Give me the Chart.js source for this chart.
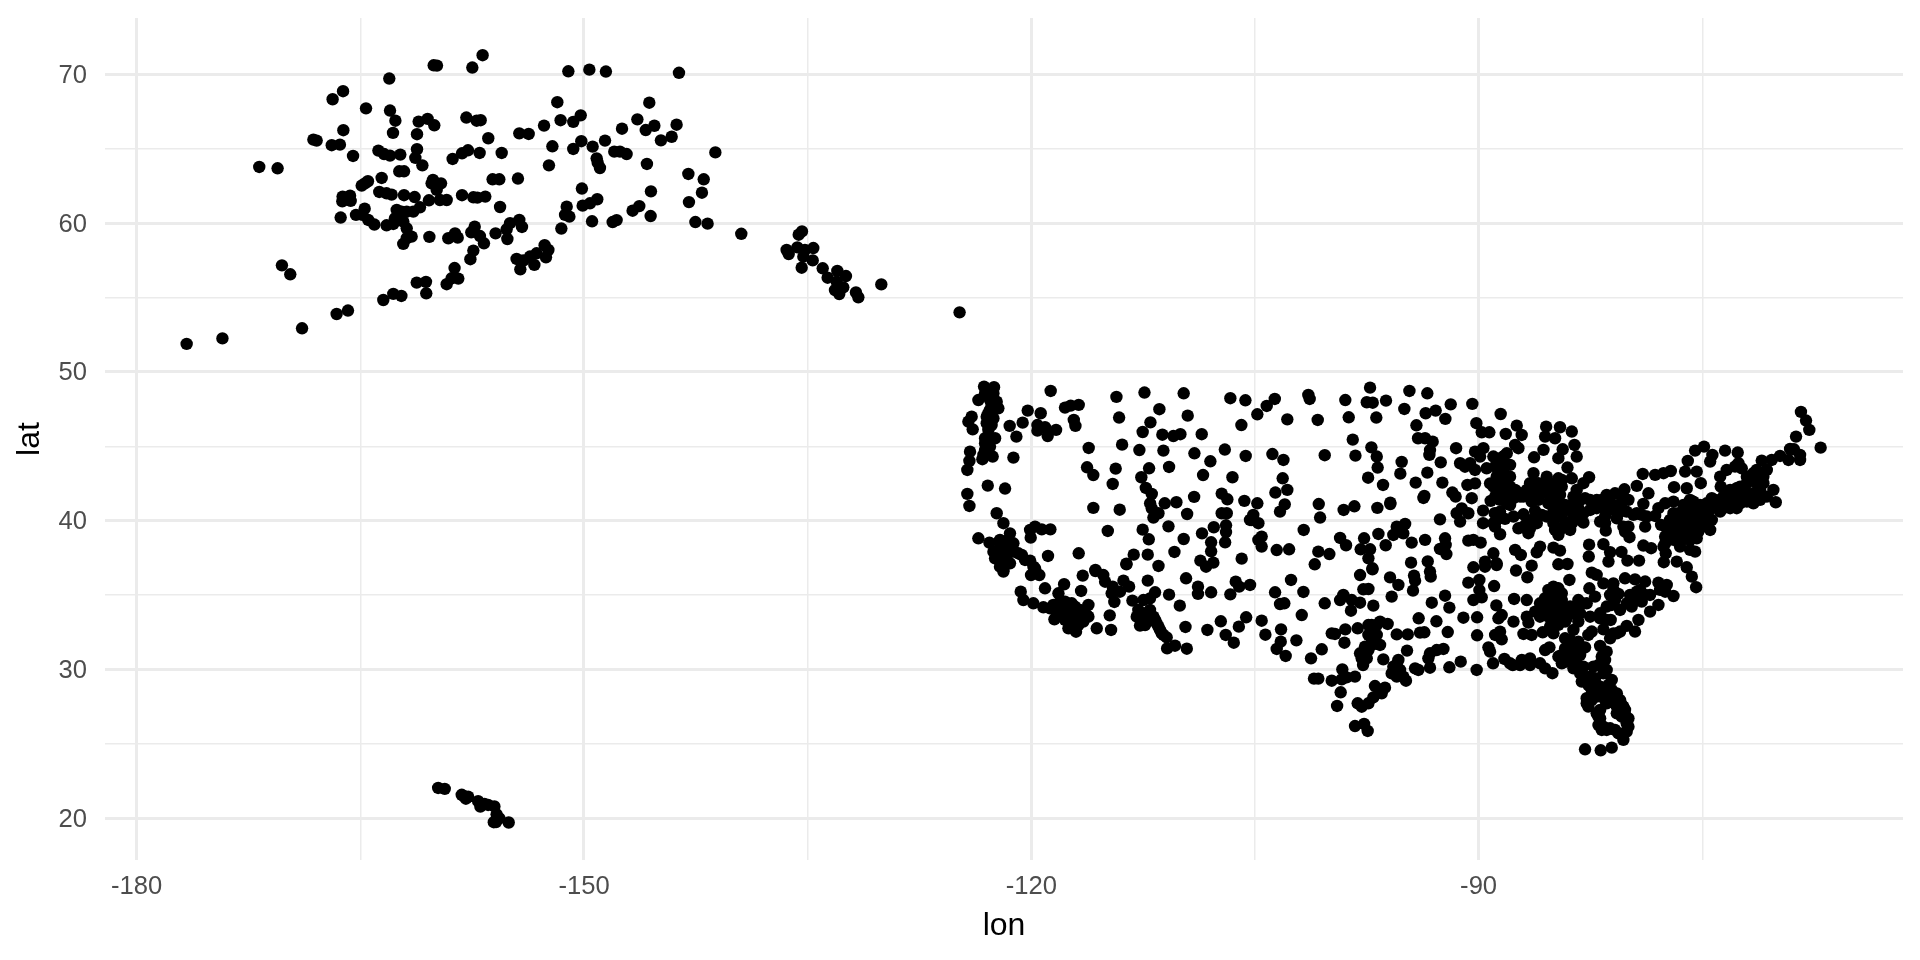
<!DOCTYPE html>
<html>
<head>
<meta charset="utf-8">
<title>lon / lat scatter</title>
<style>html,body{margin:0;padding:0;background:#fff}canvas{display:block}</style>
<script src="https://cdn.jsdelivr.net/npm/chart.js@4/dist/chart.umd.min.js"></script>
</head>
<body>
<canvas id="c" width="1920" height="960"></canvas>
<script>
const xTitle = "lon", yTitle = "lat";
const xTickValues = [-180,-165,-150,-135,-120,-105,-90,-75];
const xLabelValues = [-180,-150,-120,-90];
const yTickValues = [20,25,30,35,40,45,50,55,60,65,70];
const yLabelValues = [20,30,40,50,60,70];

const alaskaLon = [-176.65,-174.25,-156.8,-160.08,-159.86,-157.49,-163.06,-151.05,-149.64,-148.53,-166.16,-166.86,-164.62,-163.01,-151.79,-162.65,-161.09,-160.49,-160.04,-157.89,-157.2,-156.93,-150.22,-150.72,-151.57,-152.68,-162.81,-161.2,-166.14,-154.34,-153.71,-156.42,-168.15,-167.93,-166.92,-166.37,-152.12,-150.18,-150.72,-149.42,-148.59,-163.79,-163.41,-163.01,-162.32,-161.2,-161.31,-160.84,-165.49,-157.78,-158.18,-158.81,-157,-155.52,-149.15,-149.08,-148.93,-152.35,-171.78,-170.55,-162.39,-162.07,-163.57,-164.49,-164.69,-164.91,-156.13,-155.68,-154.43,-160.13,-160.22,-159.59,-159.88,-150.14,-163.73,-163.24,-162.9,-162.07,-161.36,-158.18,-157.42,-157.15,-156.62,-160.4,-159.66,-159.21,-149.11,-149.6,-150.09,-166.19,-165.69,-166.21,-165.65,-155.63,-151.16,-151.27,-150.98,-164.71,-165.29,-164.87,-164.47,-164.06,-166.32,-162.56,-162.23,-161.89,-161.45,-161,-162.68,-162.79,-163.24,-162.12,-161.89,-154.34,-154.96,-154.16,-155.19,-149.46,-157.33,-157.56,-156.98,-156.71,-155.93,-155.14,-151.52,-161.56,-161.89,-162.12,-160.37,-159.1,-158.65,-158.47,-157.42,-157.62,-152.64,-152.39,-154.52,-154.07,-153.62,-153.18,-152.55,-153.33,-154.27,-158.68,-158.43,-158.88,-159.21,-161.22,-160.6,-160.58,-163.46,-162.79,-162.25,-170.26,-169.7,-165.83,-166.59,-168.91];
const alaskaLat = [51.88,52.25,71.28,70.6,70.58,70.45,69.71,70.2,70.31,70.18,68.86,68.32,67.71,67.56,68.12,66.88,66.82,67,66.57,67.09,66.88,66.91,67.24,66.8,66.91,66.55,66.06,65.97,66.24,66.03,65.99,65.7,65.61,65.54,65.23,65.27,65.16,65.5,64.98,65.14,65.54,64.87,64.64,64.53,64.6,64.96,64.38,63.88,64.51,64.89,64.69,64.31,64.71,64.71,64.35,64.06,63.7,63.88,63.77,63.68,63.48,63.48,63.03,62.81,62.67,62.52,62.94,62.94,62.99,62.9,62.67,62.67,62.23,62.32,62.09,62,61.91,61.87,61.75,61.87,61.73,61.71,61.78,61.53,61.55,61.55,61.6,61.33,61.17,61.78,61.84,61.46,61.49,61.08,61.1,60.55,60.43,60.97,60.55,60.55,60.21,59.9,60.37,60.88,60.77,60.77,60.77,61.06,60.32,59.94,59.85,60.1,59.65,60.21,59.99,59.74,59.58,60.12,59.76,59.38,59.13,58.64,59.31,58.93,59.63,59.09,58.98,58.6,59.07,58.98,59.31,59.02,58.15,57.57,58.51,58.19,57.59,57.48,57.75,57.97,57.7,57.19,56.89,56.98,56.27,56.29,55.89,56,56.05,55.28,54.83,55.24,55.1,57.16,56.56,54.12,53.89,52.93];

const interiorLon = [-143.63,-145.62,-146.42,-145.28,-145.86,-147.45,-143.79,-144.12,-144.84,-147.97,-147.59,-147.14,-141.19,-145.78,-143,-141.97,-142.09,-145.51,-142.96,-146.29,-146.74,-145.53,-147.81,-148.08,-142.53,-141.71,-139.45];
const interiorLat = [70.1,68.09,66.97,66.54,66.25,66.34,66.61,65.8,65.56,64.8,64.8,64.64,64.75,63.97,63.3,62.94,62.04,62.13,61.41,61.14,60.83,60.47,60.2,60.07,60.07,59.96,59.28];

const panhandleLon = [-135.38,-135.6,-136.41,-136.27,-135.69,-135.18,-134.62,-135.29,-134.66,-135.4,-133.99,-133.66,-133.01,-132.43,-133.05,-132.61,-133.17,-132.88,-131.76,-131.6,-130.06,-124.81];
const panhandleLat = [59.44,59.22,58.19,57.92,58.37,58.19,58.32,57.74,57.49,57,56.96,56.33,56.78,56.44,56.06,55.68,55.5,55.23,55.34,55.01,55.88,54];

const hawaiiLon = [-159.78,-159.34,-158.2,-158.04,-157.92,-157.77,-157.1,-156.95,-156.67,-156.43,-156.01,-155.67,-156.05,-155.05,-155.86,-155.9];
const hawaiiLat = [22.04,21.98,21.58,21.48,21.32,21.45,21.15,20.79,20.96,20.9,20.8,20,19.74,19.72,20.27,19.75];

const northwestLon = [-123.17,-122.5,-123.1,-122.54,-123.55,-122.77,-122.32,-122.21,-122.77,-122.99,-124,-124.22,-122.66,-123.93,-122.88,-122.43,-123.1,-124.11,-123.1,-122.59,-123.28,-124.15,-124.29,-122.92,-121.76,-124.29,-124.15,-122.32,-121.87,-121.2,-118.7,-120.24,-119.37,-120.58,-121.45,-121,-119.59,-119.59,-119.08,-118.9,-118.34,-117.74,-117.36,-116.82,-117.15,-117.04,-116.15,-116.26,-115.84,-114.34,-114.54,-115.84,-114.07,-113.91,-114.29,-114.11,-112.41,-111.41,-112.01,-112.53,-112.75,-111.21,-110.47,-110,-111.14,-112.1,-110.76,-112.62,-112.32,-111.92,-112.03,-111.92,-111.47,-111.81,-111.05,-110.27,-109.08,-109.55,-109.78,-109.51,-108.57,-109.06,-107.99,-108.48,-107.02,-106.51,-107.23,-106.85,-105.71,-107.23,-106.89,-106.65,-105.64,-105.91,-105.62,-105.33];
const northwestLat = [49.01,48.97,48.56,48.56,48.11,48.11,48,47.55,47.44,46.99,46.99,46.66,46.43,46.14,46.1,45.54,45.2,44.64,44.75,44.31,44.13,44.02,43.41,42.36,42.16,41.8,40.99,40.5,39.83,44.24,48.72,47.4,47.22,46.59,46.37,45.65,46.43,46.05,46.28,45.69,46.1,47.6,47.73,47.78,46.77,46.37,44.89,43.59,43.07,43.5,42.47,40.86,40.74,45.11,48.32,46.93,48.61,47.49,46.61,45.96,44.75,45.78,45.69,45.81,44.71,43.52,43.61,42.92,42.2,41.8,41.17,40.83,40.5,40.21,41.17,41.24,41.6,40.45,48.56,47.06,45.81,44.53,43.99,43.07,44.78,42.92,41.82,41.44,41.33,40.5,40.5,48.23,48.09,46.43,44.35,40.05];

const southwestLon = [-123.55,-122.81,-121.87,-121.43,-121.2,-122.32,-121.65,-120.87,-120.08,-119.75,-121.87,-120.08,-119.75,-119.3,-118.72,-120.04,-118.88,-116.82,-114.87,-115.7,-112.53,-112.12,-113.13,-112.19,-113.62,-111.47,-110.4,-109.78,-108.55,-107.76,-106.94,-106.94,-107,-107.94,-107.94,-108.66,-107.79,-108.28,-105.89,-110.8,-122.1,-121.54,-122.54,-122.1,-121.87,-120.02,-119.46,-119.86,-116.55,-115.7,-115.17,-115.05,-113.62,-112.19,-109.62,-108.82,-108.82,-107.94,-106.65,-106.29,-106.06,-105.33,-110.76,-110.04,-109.66,-108.19,-107.29,-105.59,-106.08,-106.96,-106.42,-120.71,-120.53,-119.08,-117.8,-118.18,-116.66,-114.54,-113.82,-113.44,-114.05,-114.61,-114.43,-113.22,-112.48,-112.04,-111.7,-119.86,-119.19,-118.52,-117.74,-117.29,-116.17,-118.45,-117.85,-117.07,-116.84,-116.28,-116.51,-117.13,-117,-115.61,-114.74,-114.65,-112.82,-112.59,-112.71,-112.04,-111.7,-111.47,-111.25,-110.92,-110.89,-110.36,-109.57,-118.07,-117.51,-116.73];
const southwestLat = [38.82,38.53,38.37,39.15,38.48,37.7,37.36,37.81,37.32,36.8,36.69,39.38,39.6,39.42,39.42,38.86,37.63,37.81,39.31,36.69,39.4,38.75,37.72,37.72,37.11,36.96,37.9,38.77,39.15,39.56,39.69,39.24,38.55,38.55,37.94,37.32,37.18,36.91,37.45,39.62,38.26,38.71,37.92,37.25,36.58,36.35,36.35,36.91,36.31,36.62,36.35,35.9,37.07,35.97,36.13,35.57,35.08,35.19,35.05,35.9,35.57,35.68,35.03,34.29,32.86,32.66,33.24,33.51,32.88,32.32,31.8,35.23,34.67,35.46,35.73,35.12,35.28,35.57,35.97,35.57,35.23,35.12,34.54,34.63,34.67,34.78,35.19,34.45,34.18,34.34,34.56,34.45,34.34,33.37,33.89,33.78,33.44,33.66,33.22,32.77,32.54,32.77,33.64,32.66,34,33.44,32.95,33.66,33.33,32.88,32.43,32.16,31.42,31.6,31.4,34.22,34.22,34];

const westClusterLon = [-122.66,-122.88,-122.54,-123.1,-122.77,-123.21,-122.88,-122.99,-122.1,-121.54,-121.76,-121.2,-122.43,-122.1,-121.43,-120.42,-120.64,-118.18,-117.74,-117.4,-117.07,-118.07,-117.62,-117.29,-116.62,-118.3,-117.74,-117.4,-116.84,-116.17,-117.07,-117.51,-118.74,-112.93,-112.37,-112.26,-111.81,-111.59,-112.37,-112.04,-111.37,-111.14];
const westClusterLat = [47.78,47.22,46.88,45.54,44.98,44.42,45.65,46.55,38.71,38.26,37.92,37.92,37.47,36.91,37.14,37.36,37.7,34.45,34.11,34,34.22,33.89,33.66,33.44,33.89,33.78,33.33,33.1,32.99,33.55,32.99,32.77,34.11,33.55,33.77,33.44,33.55,33.1,32.99,34,32.66,32.32];

const northPlainsLon = [-104.84,-104.21,-103.67,-102.83,-101.42,-101.33,-100.79,-98.94,-98.71,-97.28,-97.5,-97.1,-96.21,-96.86,-94.64,-93.44,-94.98,-93.55,-92.88,-92.23,-91.87,-90.42,-88.52,-94.17,-90.15,-89.79,-89.28,-88.18,-94.06,-93.59,-93.08,-93.26,-93.3,-98.44,-97.19,-98.26,-96.83,-96.77,-97.41,-96.41,-95.16,-95.25,-93.44,-94.22,-92.54,-92.43,-91.51,-103.83,-103.09,-100.32,-103.14,-102.83,-103.63,-104.84,-103,-103.32,-100.72,-100.63,-99.05,-98.33,-96.79,-95.92,-95.92,-93.64,-93.7,-91.76,-91.54,-92.59,-91.47,-91.13,-90.69,-91.24,-89.7,-89.7,-88.92,-88.23,-88.9,-88.56,-90.24,-89.68,-91.24,-90.57,-90.24,-89.46,-89.9,-89.01,-88.34,-88.11,-90.75,-90.24,-90.46,-89.19,-88.79,-88.34,-88.11,-88.79,-88.34,-88.11,-89.23,-90.91];
const northPlainsLat = [47.15,47.71,48.18,46.81,48.45,48.18,46.77,48.11,46.95,48.94,47.96,47.93,48.07,46.93,48.72,48.56,47.51,47.22,47.4,46.84,47.82,47.85,47.17,46.41,46.55,45.94,45.94,45.83,45.54,45.54,45.31,44.75,44.42,45.45,44.93,44.37,44.31,43.57,42.89,42.4,43.95,43.16,43.23,42.56,43.92,42.56,44.87,44.48,44.08,44.4,42.85,42.07,41.89,41.17,41.1,40.61,41.12,40.21,40.72,40.97,40.86,41.21,41.12,41.66,41.53,41.89,41.62,40.09,40.5,40.83,40.5,39.94,40.68,39.83,40.5,40.12,39.6,39.09,44.64,44.87,43.86,43.86,43.41,43.52,44.31,44.31,44.31,44.53,42.4,42.51,41.51,41.33,42.96,43.19,42.51,42.29,41.62,41.17,42.51,43.63];

const midPlainsLon = [-105.11,-105.22,-104.77,-104.55,-104.77,-104.55,-103.54,-102.71,-101.73,-100.75,-100.01,-100.99,-99.29,-98.89,-97.68,-96.72,-96.23,-97.91,-97.28,-97.39,-95.49,-94.93,-95.72,-95.05,-94.49,-93.59,-92.25,-92.21,-92.59,-92.16,-94.53,-93.41,-90.69,-90.35,-89.86,-89.01,-89.57,-88.79,-90.35,-97.12];
const midPlainsLat = [40.39,40.05,39.83,38.93,38.71,38.26,38.03,38.08,39.38,37.92,37.76,37.07,38.84,38.35,38.82,39.11,38.35,38.08,38.08,37.47,39.6,39.78,39.04,39.15,38.53,38.71,38.82,38.37,38.1,37.76,37.18,37.27,38.66,38.71,38.53,37.81,37.25,37.14,36.87,36.8];

const southPlainsLon = [-102.58,-103.65,-101.75,-103.32,-103.03,-100.32,-101.86,-104.55,-103.25,-104.3,-103.27,-103.54,-102.94,-102.22,-100.52,-101.24,-101.04,-100.75,-99.85,-99.25,-99.49,-98.29,-97.68,-97.44,-99.07,-99.29,-98.51,-97.95,-98.56,-97.06,-97.73,-97.39,-97.95,-97.12,-95.83,-95.94,-95.38,-94.33,-94.26,-94.4,-93.26,-93.21,-93.14,-92.25,-91.96,-94.02,-92.83,-92.07,-91.02,-90.1,-90.1,-90.69,-89.95,-88.96,-89.95,-90.35,-89.79,-88.81,-88.45,-88.67,-88.56,-88.45,-89.34,-89.23,-89.03,-88.27,-87.89,-91.2,-91.96,-90.13,-99.85,-99.63,-98.94,-99,-98.11,-97.39,-96.61,-96.1,-97.06,-97.17,-96.61,-97.62,-97.95,-97.75,-96.39,-95.49,-94.75,-93.93,-93.64,-94.8,-92.36,-92.81,-93.26,-93.37,-93.26,-95.49,-95.6,-95.49,-95.05,-94.87,-94.26,-94.04,-99.14,-99.18,-98.85,-98.29,-96.95,-96.28,-96.5,-97.06,-97.39,-97.84,-98.11,-89.57,-88.79];
const southPlainsLat = [36.02,35.19,35.21,34.4,34.45,34.45,33.66,33.28,32.7,32.34,31.87,31.38,30.91,31.96,31.36,30.75,29.39,29.39,29.25,28.47,27.55,26.2,26.34,25.87,35.01,34.67,34.67,34.49,33.95,34.29,35.39,35.41,36.35,36.73,34.9,36.19,35.68,36.31,35.97,35.3,36.58,36.24,34.49,34.96,34.16,33.44,33.24,32.52,33.48,33.51,32.3,35.84,36.02,35.61,35.34,34.67,34.85,34.31,33.66,33.44,32.54,32.03,31.49,31.2,30.42,30.71,30.42,30.53,30.15,29.97,32.43,32.39,32.7,31.8,32.77,32.99,33.22,33.06,32.66,32.1,31.65,31.2,31.09,30.3,30.68,32.36,32.36,32.48,32.5,31.27,31.38,31.31,31.09,30.75,30.12,30.37,29.97,29.52,29.52,29.25,30.08,29.97,30.01,29.34,29.47,29.52,28.89,28.78,28.4,28.13,27.73,27.5,27.73,36.91,37.02];

const texasClusterLon = [-97.17,-96.83,-97.17,-96.83,-97.39,-97.17,-97.62,-97.5,-97.84,-97.39,-95.72,-95.27,-95.83,-95.38,-95.27];
const texasClusterLat = [32.99,32.99,32.54,32.32,32.32,31.65,31.54,30.75,30.75,31.31,30.19,29.97,29.74,30.64,29.63];

const greatLakesLon = [-87.44,-87.11,-87.55,-87.33,-85.47,-84.54,-85.54,-84.87,-83.75,-85.65,-83.57,-84.36,-84.65,-83.42,-84.04,-86.28,-88.56,-87.89,-86.32,-85.43,-84.65,-83.75,-82.59,-82.97,-83.42,-84.42,-85.99,-86.55,-87,-87.89,-88.56,-89.01,-87.89,-88.56,-87.22,-85.88,-85.32,-84.76,-84.2,-83.64,-82.86,-82.07,-81.41,-80.85,-80.22,-79.95,-80.62,-81.63,-82.52,-83.31,-84.09,-84.98,-87.66,-86.99,-86.21,-85.43,-86.1,-86.66,-87.33,-89.01,-84.98,-84.65,-83.86,-84.2,-82.97,-81.85,-81.47,-80.73,-79.95,-80.18,-79.88,-88.78,-88.34,-87.55,-88,-88.78,-86.55,-84.98,-85.21,-86.32,-85.65];
const greatLakesLat = [46.39,45.76,45.09,44.87,46.32,46.28,45.65,45.54,45.99,44.76,45.09,44.8,44.2,44.31,43.57,44.26,44.08,43.75,43.19,42.96,42.85,42.85,42.92,42.52,42.07,42.29,42.52,41.84,41.62,42.29,42.52,42.29,41.06,41.4,41.62,41.73,41.17,41.62,41.06,41.62,41.51,41.4,41.73,41.84,42.11,41.4,41.06,40.84,40.72,40.84,40.72,40.84,40.28,40.43,40.66,40.28,39.83,39.16,39.49,39.83,39.83,39.04,39.38,39.94,39.87,39.94,39.33,40.16,39.6,39.27,38.89,43.64,42.74,42.07,41.73,41.84,42.52,41.84,41.62,41.4,42.07];

const lakesClusterLon = [-88.34,-88.89,-88.34,-87.89,-88.67,-88.22,-88.89,-88.45,-87.89,-87.44,-87.66,-88.11,-86.77,-86.21,-85.76,-86.32,-85.99,-86.44,-85.32,-84.87,-84.42,-85.09,-84.54,-84.98,-84.42,-83.75,-83.19,-82.52,-81.74,-81.18,-80.4,-80.4,-81.18,-82.08,-82.97,-83.64,-84.54,-84.98,-84.2,-84.87,-84.42,-83.75,-83.19,-81.52,-81.52,-80.62,-80.07,-79.61,-79.06,-80.29,-88.78,-88.56,-86.77,-86.44,-85.76,-86.55,-86.99];
const lakesClusterLat = [44.31,43.64,43.41,42.96,43.08,42.07,41.62,41.96,41.73,41.96,41.51,41.28,42.07,42.07,42.29,42.52,41.4,41.28,42.29,42.52,42.74,41.84,41.73,41.28,40.95,41.06,41.4,41.4,41.4,41.28,41.62,40.84,40.72,40.84,40.5,40.39,40.28,40.16,39.6,39.38,39.49,39.83,40.05,40.28,39.83,40.5,40.61,40.39,40.39,39.6,40.05,40.61,39.83,40.05,40.39,39.49,39.6];

const northeastLon = [-79.39,-78.72,-78.83,-78.16,-78.99,-79.39,-78.16,-77.6,-77.11,-76.89,-76.04,-78.61,-78.95,-77.94,-77.49,-76.93,-76.15,-75.37,-75.1,-75.97,-75.48,-74.88,-74.32,-74.47,-73.47,-72.62,-72.57,-73.36,-73.8,-73.76,-72.35,-72.8,-71.01,-70.34,-69.78,-69.11,-69.22,-71.57,-70.9,-71.35,-70.23,-70.07,-70.67,-71.57,-72.01,-72.69,-72.69,-73.58,-74.36,-75.59,-75.15,-75.93,-76.6,-76.71,-77.76,-77.16,-77.49,-76.49,-75.48,-75.59,-76.04,-74.92,-74.47,-74.92,-74.36,-73.8,-73.13,-72.24,-76.26,-75.82,-75.37,-75.82,-76.26,-76.93,-77.38,-75.26,-74.7,-75.82,-75.26,-76.49,-76.71,-70.67,-71.35,-72.01,-71.12,-71.12,-73.8,-73.13,-74.25,-74.03,-72.69,-68.38,-68.04,-67.82,-68.71,-67.06,-68.85,-68.44,-68.44];
const northeastLat = [40.5,40.28,39.6,40.32,43.14,42.34,43.08,43.19,43.34,42.25,42.18,41.84,41.13,40.84,41.17,41.28,43.3,43.3,42.52,44.02,44.71,44.98,44.42,43.97,44.71,44.58,43.86,43.41,42.96,42.29,43.52,43.64,44.04,44.08,44.35,44.82,44.08,43.19,42.96,42.52,42.07,41.24,41.62,41.17,41.84,42.18,40.84,40.84,41.51,41.28,41.06,40.84,40.5,39.83,39.72,39.16,38.48,38.26,37.92,38.93,39.6,39.83,39.38,40.5,40.05,40.61,41.4,41.62,40.5,40.5,40.05,38.71,39.38,39.6,38.93,39.27,40.05,41.4,40.72,38.93,40.28,43.41,42.96,42.52,42.07,41.4,41.4,40.84,41.17,40.84,41.62,47.31,46.73,46.1,45.65,44.91,44.8,44.42,44.08];

const corridorLon = [-77.16,-76.37,-75.82,-75.59,-75.37,-74.92,-74.59,-74.7,-75.82,-76.26,-76.93,-77.38,-76.93,-76.49,-75.59,-75.15,-74.7,-76.04,-75.37,-76.37,-76.93,-77.49,-77.6,-75.82,-73.58,-73.02,-72.46,-72.01,-71.12,-71.57,-71.35,-71.57,-70.9,-72.01,-72.46,-73.13,-73.58,-74.14];
const corridorLat = [40.05,40.05,40.05,40.5,40.84,40.95,40.61,41.17,41.06,41.06,40.5,39.49,39.16,39.6,39.49,39.6,39.6,39.16,38.82,38.71,38.71,38.93,38.26,38.04,41.4,41.84,41.17,41.28,41.73,41.84,43.41,42.74,42.52,42.96,42.29,42.07,41.62,41.4];

const appalachiaLon = [-82.59,-82.61,-81.63,-81.18,-81.29,-80.42,-80.02,-79.24,-78.95,-78.43,-77.45,-77.58,-76.71,-76.04,-75.7,-82.41,-82.08,-87.55,-87.17,-85.88,-86.1,-84.98,-84.54,-84.65,-84.04,-86.44,-87.49,-86.73,-83.91,-81.63,-80.96,-80.18,-79.51,-78.83,-77.94,-77.38,-76.93,-75.41];
const appalachiaLat = [38.39,37.59,38.42,37.88,37.25,37.9,37.32,37.32,38.33,38.15,37.81,37.21,37.25,36.87,36.24,36.51,36.36,38.04,37.7,38.26,37.88,38.19,37.99,37.07,37.09,36.98,36.65,36.2,36.02,35.79,35.79,36.13,36.06,35.91,35.84,35.68,34.94,35.53];

const southeastLon = [-84.98,-85.21,-84.42,-85.88,-84.87,-85.43,-86.21,-84.76,-83.86,-83.31,-82.75,-82.19,-82.57,-83.64,-84.09,-84.98,-85.88,-85.21,-83.31,-83.64,-84.98,-87.62,-86.77,-87.66,-86.77,-86.66,-88.89,-86.99,-86.44,-85.7,-85.25,-85.54,-87.71,-87.1,-86.55,-85.88,-85.54,-85.05,-86.55,-87.22,-81.18,-80.62,-81.07,-80.51,-79.73,-79.84,-79.17,-78.83,-79.06,-77.94,-78.5,-79.28,-82.52,-81.85,-81.14,-80.06,-79.51,-81.63,-82.41,-80.73,-81.18,-82.64,-81.85,-77.83];
const southeastLat = [35.57,35.12,35.12,34.45,34.56,34,33.89,33.78,34.23,34.67,34.45,34.9,35.46,33.78,33.44,33.33,33.55,32.88,33.22,32.66,32.43,34.74,34.67,33.22,33.55,33.15,32.32,32.39,32.32,32.5,31.49,31.31,30.3,30.64,30.75,30.42,30.08,29.75,30.3,30.3,35.01,35.08,34.34,34,34.23,35.01,35.35,35.01,34.56,34.34,33.89,33.33,33.55,33.44,33.33,32.93,32.55,32.7,32.55,32.43,32.1,32.32,33.78,35.35];

const georgiaClusterLon = [-85.32,-84.65,-85.54,-84.98,-84.42,-85.54,-84.98,-84.42,-83.86,-85.32,-84.76,-84.42,-84.2,-83.42,-83.08,-84.65,-84.2,-84.98,-83.19,-85.88,-83.86,-83.31,-84.2,-83.64,-83.19,-84.42,-83.53,-84.09,-83.31,-80.96,-80.85,-81.41,-80.06,-79.51,-79.39,-78.5,-77.49,-81.41,-80.51,-80.96];
const georgiaClusterLat = [35.35,35.46,34.79,34.9,34.67,34.23,34.23,34.11,33.78,33.55,33.33,33.78,34,34.23,34.45,33,33.22,33.89,33.78,34,31.99,31.87,31.42,31.2,31.42,30.98,30.75,30.53,30.3,35.35,34.67,34.23,34.45,34.67,35.23,35.01,35.23,33.33,32.55,32.43];

const floridaLon = [-84.2,-83.64,-82.86,-81.85,-81.41,-81.52,-81.96,-81.41,-81.07,-84.42,-84.65,-83.98,-83.19,-83.64,-82.97,-82.3,-83.08,-82.64,-82.19,-82.08,-82.75,-82.41,-82.64,-81.52,-81.07,-80.73,-80.51,-81.52,-80.29,-82.08,-81.85,-80.18,-80.07,-81.63,-81.41,-80.85,-80.29,-80.29,-82.86,-81.81,-81.07,-81.41,-80.73,-81.63,-82.08];
const floridaLat = [32.1,31.65,31.49,31.58,31.2,30.64,30.3,29.97,29.3,30.42,30.87,31.09,30.98,30.08,30.19,30.19,29.19,28.96,29.41,28.96,28.07,27.95,27.51,28.74,28.63,28.4,27.95,27.95,27.51,27.06,26.72,26.95,26.39,26.16,25.94,25.94,25.71,25.27,24.64,24.57,24.75,27.73,27.06,28.4,28.18];

const floridaClusterLon = [-81.29,-80.84,-80.4,-80.18,-79.95,-79.95,-80.07,-81.85,-81.96,-81.96,-81.74,-81.18,-80.62,-82.41,-82.75,-81.29,-81.85,-81.18,-80.73,-80.4,-82.86,-82.52,-83.19,-82.52,-81.63,-81.74];
const floridaClusterLat = [28.96,28.18,27.62,27.28,26.72,26.16,25.82,27.28,26.83,26.27,25.94,26.05,25.71,28.4,27.73,28.29,28.85,27.84,27.51,26.83,29.52,28.85,29.74,29.52,29.74,30.87];

const lonGroups = [alaskaLon,interiorLon,panhandleLon,hawaiiLon,northwestLon,southwestLon,westClusterLon,northPlainsLon,midPlainsLon,southPlainsLon,texasClusterLon,greatLakesLon,lakesClusterLon,northeastLon,corridorLon,appalachiaLon,southeastLon,georgiaClusterLon,floridaLon,floridaClusterLon];
const latGroups = [alaskaLat,interiorLat,panhandleLat,hawaiiLat,northwestLat,southwestLat,westClusterLat,northPlainsLat,midPlainsLat,southPlainsLat,texasClusterLat,greatLakesLat,lakesClusterLat,northeastLat,corridorLat,appalachiaLat,southeastLat,georgiaClusterLat,floridaLat,floridaClusterLat];

const points = [];
lonGroups.forEach((lons, g) => {
  const lats = latGroups[g];
  if (lons.length !== lats.length) console.warn('length mismatch in group', g, lons.length, lats.length);
  lons.forEach((x, i) => { if (lats[i] !== undefined) points.push({x, y: lats[i]}); });
});

const GRID = '#ebebeb', TICK = '#4d4d4d', FONT = '"Liberation Sans", Arial, sans-serif';
const setTicks = values => scale => { scale.ticks = values.map(v => ({value: v})); };
const noPadding = s => { s.paddingTop = 0; s.paddingBottom = 0; s.paddingLeft = 0; s.paddingRight = 0; };

new Chart(document.getElementById('c'), {
  type: 'scatter',
  data: { datasets: [{ data: points, backgroundColor: '#000', borderWidth: 0, pointRadius: 6.2, pointHoverRadius: 6.2 }] },
  options: {
    responsive: false,
    animation: false,
    events: [],
    layout: { padding: { top: 18, right: 17, left: 0, bottom: 0 } },
    plugins: { legend: { display: false }, tooltip: { enabled: false }, title: { display: false } },
    scales: {
      x: {
        type: 'linear', min: -182.126, max: -61.536,
        afterBuildTicks: setTicks(xTickValues),
        afterFit: s => { s.height = 100; noPadding(s); },
        border: { display: false },
        grid: { color: GRID, drawTicks: false, lineWidth: c => xLabelValues.includes(c.tick && c.tick.value) ? 3 : 1.5 },
        ticks: { autoSkip: false, maxRotation: 0, padding: 12, color: TICK, font: { family: FONT, size: 25.6 },
          callback: v => xLabelValues.includes(v) ? String(v) : '' },
        title: { display: true, text: xTitle, color: '#000', font: { family: FONT, size: 32 }, padding: { top: 0, bottom: 15 } }
      },
      y: {
        type: 'linear', min: 17.2, max: 73.78,
        afterBuildTicks: setTicks(yTickValues),
        afterFit: s => { s.width = 105; noPadding(s); },
        border: { display: false },
        grid: { color: GRID, drawTicks: false, lineWidth: c => yLabelValues.includes(c.tick && c.tick.value) ? 3 : 1.5 },
        ticks: { autoSkip: false, padding: 18, labelOffset: 1.5, color: TICK, font: { family: FONT, size: 25.6 },
          callback: v => yLabelValues.includes(v) ? String(v) : '' },
        title: { display: true, text: yTitle, color: '#000', font: { family: FONT, size: 32 }, padding: { top: 11, bottom: 0 } }
      }
    }
  }
});
</script>
</body>
</html>
